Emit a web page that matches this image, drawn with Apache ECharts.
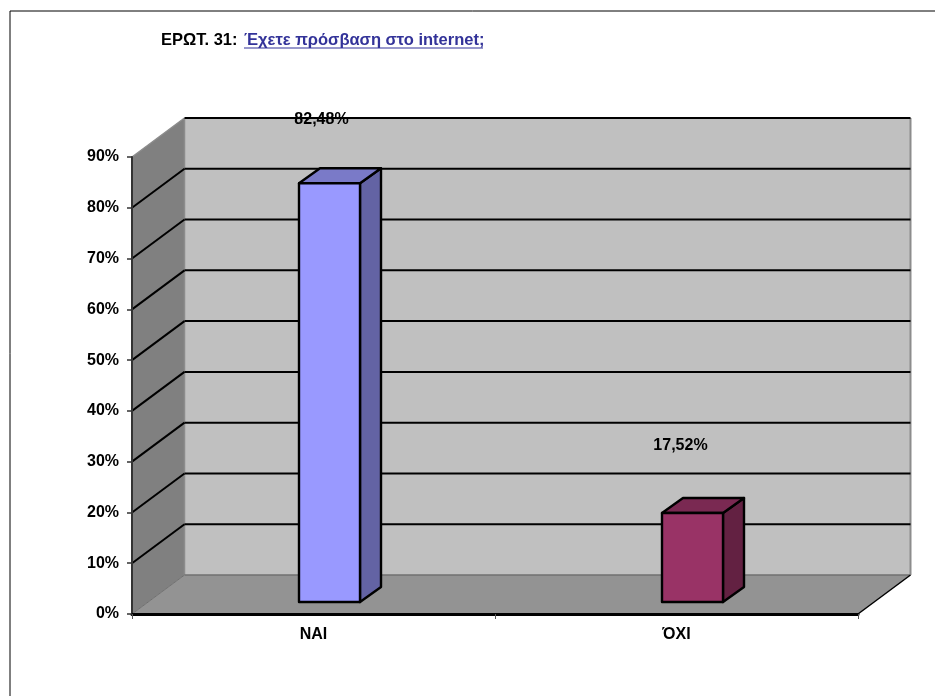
<!DOCTYPE html>
<html>
<head>
<meta charset="utf-8">
<script src="https://cdn.jsdelivr.net/npm/echarts@6/dist/echarts.min.js"></script>
<style>
html,body{margin:0;padding:0;background:#fff;}
#chart{width:935px;height:696px;}
</style>
</head>
<body>
<div id="chart"></div>
<script>
var categories = ['ΝΑΙ', 'ΌΧΙ'];
var values = [82.48, 17.52];
var valueLabels = ['82,48%', '17,52%'];
var tickValues = [0, 10, 20, 30, 40, 50, 60, 70, 80, 90];

// βάθος του τρισδιάστατου τοίχου και της στήλης (px)
var wallDx = 52.5, wallDy = -39;
var barDx = 21, barDy = -15;
var barShiftX = 16, barShiftY = -12, barWidth = 61;
var labelShift = [[-8, -64], [-12, -67]];
var barColors = [
    {front: '#9999FF', top: '#7A7AC8', side: '#6363A4'},
    {front: '#993366', top: '#7A2952', side: '#632142'}
];
var FONT = 'Liberation Sans, Arial, sans-serif';

function poly(points, fill, stroke, width) {
    return {
        type: 'polygon',
        shape: {points: points},
        style: {fill: fill, stroke: stroke || null, lineWidth: width || 0, lineJoin: 'round'},
        silent: true
    };
}
function line(x1, y1, x2, y2, color, width) {
    return {
        type: 'line',
        shape: {x1: x1, y1: y1, x2: x2, y2: y2},
        style: {stroke: color, lineWidth: width},
        silent: true
    };
}

// τοίχοι και δάπεδο
function renderWalls(params, api) {
    var o = api.coord([0, 0]);
    var left = params.coordSys.x, right = left + params.coordSys.width;
    var y0 = o[1];
    var yTop = api.coord([0, 90])[1];
    var children = [
        poly([[left + wallDx, yTop + wallDy], [right + wallDx, yTop + wallDy], [right + wallDx, y0 + wallDy], [left + wallDx, y0 + wallDy]], '#C0C0C0'),
        poly([[left, yTop], [left + wallDx, yTop + wallDy], [left + wallDx, y0 + wallDy], [left, y0]], '#808080'),
        poly([[left, y0], [left + wallDx, y0 + wallDy], [right + wallDx, y0 + wallDy], [right, y0]], '#939393'),
        line(left, yTop, left + wallDx, yTop + wallDy, '#8C8C8C', 1.5),
        line(left + wallDx, yTop + wallDy, left + wallDx, y0 + wallDy, '#8C8C8C', 1.5),
        line(left, y0, left + wallDx, y0 + wallDy, '#707070', 1),
        line(left + wallDx, y0 + wallDy, right + wallDx, y0 + wallDy, '#707070', 1.5),
        line(right + wallDx, yTop + wallDy, right + wallDx, y0 + wallDy, '#8C8C8C', 2),
        line(right, y0, right + wallDx, y0 + wallDy, '#000', 1.5)
    ];
    tickValues.forEach(function (t) {
        if (t === 0) return;
        var y = api.coord([0, t])[1];
        if (t !== 90) children.push(line(left, y, left + wallDx, y + wallDy, '#000', 2));
        children.push(line(left + wallDx, y + wallDy, right + wallDx, y + wallDy, '#000', 2));
    });
    return {type: 'group', children: children};
}

function renderBar(params, api) {
    var i = api.value(0);
    var c = api.coord([i, api.value(1)]);
    var base = api.coord([i, 0]);
    var x1 = c[0] + barShiftX - barWidth / 2, x2 = x1 + barWidth;
    var yt = c[1] + barShiftY, yb = base[1] + barShiftY;
    var col = barColors[i];
    return {
        type: 'group',
        children: [
            poly([[x2, yt], [x2 + barDx, yt + barDy], [x2 + barDx, yb + barDy], [x2, yb]], col.side, '#000', 2.4),
            poly([[x1, yt], [x1 + barDx, yt + barDy], [x2 + barDx, yt + barDy], [x2, yt]], col.top, '#000', 2.4),
            poly([[x1, yt], [x2, yt], [x2, yb], [x1, yb]], col.front, '#000', 2.4),
            {
                type: 'text',
                style: {
                    x: c[0] + barShiftX + labelShift[i][0],
                    y: yt + labelShift[i][1],
                    text: valueLabels[i],
                    font: 'bold 16px ' + FONT,
                    fill: '#000',
                    align: 'center',
                    verticalAlign: 'middle'
                },
                silent: true
            }
        ]
    };
}

var myChart = echarts.init(document.getElementById('chart'), null, {renderer: 'canvas'});
var option = {
    animation: false,
    backgroundColor: '#fff',
    grid: {left: 132, right: 77, top: 157, bottom: 82},
    xAxis: {
        type: 'category',
        data: categories,
        boundaryGap: true,
        axisLine: {show: true, lineStyle: {color: '#000', width: 3}},
        axisTick: {show: true, length: 5, lineStyle: {color: '#555', width: 1}},
        axisLabel: {color: '#000', fontFamily: FONT, fontWeight: 'bold', fontSize: 16, margin: 13},
        z: 5
    },
    yAxis: {
        type: 'value',
        min: 0,
        max: 90,
        interval: 10,
        axisLine: {show: true, lineStyle: {color: '#333', width: 2}},
        axisTick: {show: true, length: 5, lineStyle: {color: '#333', width: 1.5}},
        splitLine: {show: false},
        axisLabel: {
            color: '#000', fontFamily: FONT, fontWeight: 'bold', fontSize: 16, margin: 13,
            formatter: '{value}%'
        },
        z: 5
    },
    series: [
        {
            type: 'custom',
            renderItem: renderWalls,
            data: [[0, 0]],
            encode: {x: 0, y: 1},
            clip: false,
            z: 1
        },
        {
            type: 'custom',
            renderItem: renderBar,
            data: values.map(function (v, i) { return [i, v]; }),
            encode: {x: 0, y: 1},
            clip: false,
            z: 3
        }
    ],
    graphic: [
        {type: 'polyline', shape: {points: [[10, 696], [10, 11], [935, 11]]}, style: {stroke: '#000', lineWidth: 1, fill: null}, silent: true},
        {type: 'text', style: {x: 161, y: 40, text: 'ΕΡΩΤ. 31:', font: 'bold 16.5px ' + FONT, fill: '#000', verticalAlign: 'middle'}, silent: true},
        {type: 'text', style: {x: 244, y: 40, text: 'Έχετε πρόσβαση στο internet;', font: 'bold 16.5px ' + FONT, fill: '#333399', verticalAlign: 'middle'}, silent: true},
        {type: 'line', shape: {x1: 244, y1: 48, x2: 483, y2: 48}, style: {stroke: '#333399', lineWidth: 1.2}, silent: true}
    ]
};
myChart.setOption(option);
window.addEventListener('resize', function () {
    myChart.resize();
});
</script>
</body>
</html>
